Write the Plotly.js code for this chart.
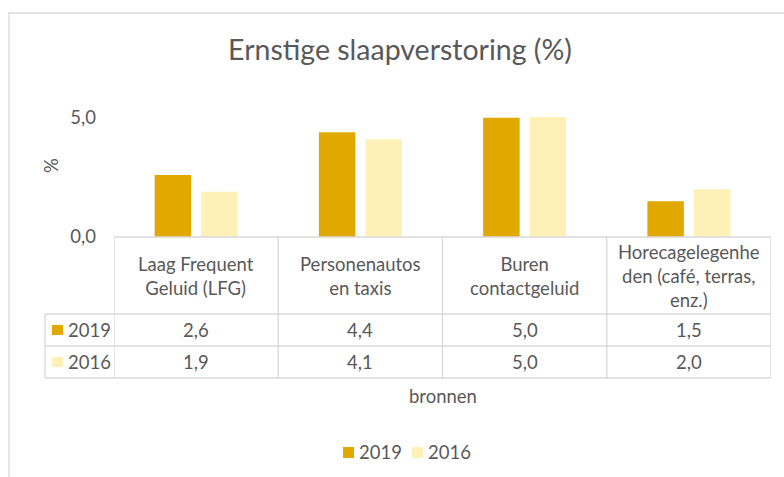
<!DOCTYPE html>
<html>
<head>
<meta charset="utf-8">
<script src="https://cdn.plot.ly/plotly-3.0.1.min.js"></script>
<style>html,body{margin:0;padding:0;background:#fff;}#chart{width:784px;height:477px;}</style>
</head>
<body>
<div id="chart"></div>
<script>
// ---- data ----
const categories = ['Laag Frequent Geluid (LFG)', 'Personenautos en taxis', 'Buren contactgeluid', 'Horecagelegenheden (café, terras, enz.)'];
const headerLabels = ['Laag Frequent<br>Geluid (LFG)', 'Personenautos<br>en taxis', 'Buren<br>contactgeluid', 'Horecagelegenhe<br>den (café, terras,<br>enz.)'];
const seriesNames = ['2019', '2016'];
const values2019 = [2.6, 4.4, 5.0, 1.5];
const values2016 = [1.9, 4.1, 5.04, 2.0];
const yTickVals = [0, 5];
const chartTitle = 'Ernstige slaapverstoring (%)';
const yTitle = '%';
const xTitle = 'bronnen';

// ---- style ----
const W = 784, H = 477;
const L = 114, R = 13, T = 94, B = 240;
const PW = W - L - R, PH = H - T - B;
const px2x = p => (p - L) / PW;
const py2y = p => (H - B - p) / PH;
const FONT = 'Lato, "Open Sans", sans-serif';
const FS = 18.5;
const TXT = '#595959';
const C19 = '#E1A900';
const C16 = '#FFF0B8';
const GRID = '#D9D9D9';
const fmt = v => v.toFixed(1).replace('.', ',');
const tf = {family: FONT, size: FS, color: TXT};

const traces = [
  {type: 'bar', name: seriesNames[0], x: categories, y: values2019, marker: {color: C19}, hoverinfo: 'skip'},
  {type: 'bar', name: seriesNames[1], x: categories, y: values2016, marker: {color: C16}, hoverinfo: 'skip'}
];

const shapes = [];
const annotations = [];
const line = {color: GRID, width: 1.3};
// outer chart border
shapes.push({type: 'rect', xref: 'paper', yref: 'paper', x0: px2x(9), x1: px2x(800), y0: py2y(13), y1: py2y(500), line: {color: GRID, width: 1.3}, fillcolor: 'rgba(0,0,0,0)', layer: 'below'});
// table horizontal lines
const rowY = [237, 314, 346, 378];
rowY.forEach((p, i) => {
  shapes.push({type: 'line', xref: 'paper', yref: 'paper', x0: px2x(i === 0 ? L : 45), x1: 1, y0: py2y(p), y1: py2y(p), line});
});
// table vertical lines at category boundaries
for (let i = 0; i <= categories.length; i++) {
  shapes.push({type: 'line', xref: 'x', yref: 'paper', x0: i - 0.5, x1: i - 0.5, y0: py2y(237), y1: py2y(378), line});
}
shapes.push({type: 'line', xref: 'paper', yref: 'paper', x0: px2x(45), x1: px2x(45), y0: py2y(314), y1: py2y(378), line});

// header labels
headerLabels.forEach((lab, i) => {
  annotations.push({xref: 'x', yref: 'paper', x: categories[i], y: py2y(276), text: lab, showarrow: false, xanchor: 'center', yanchor: 'middle', align: 'center', font: tf});
});
// value rows with legend keys
const rows = [values2019, values2016];
const rowMid = [330, 362];
const rowColors = [C19, C16];
rows.forEach((vals, r) => {
  vals.forEach((v, i) => {
    annotations.push({xref: 'x', yref: 'paper', x: categories[i], y: py2y(rowMid[r]), text: fmt(v), showarrow: false, xanchor: 'center', yanchor: 'middle', font: tf});
  });
  shapes.push({type: 'rect', xref: 'paper', yref: 'paper', x0: px2x(52), x1: px2x(63), y0: py2y(rowMid[r] - 5), y1: py2y(rowMid[r] + 5), line: {width: 0}, fillcolor: rowColors[r]});
  annotations.push({xref: 'paper', yref: 'paper', x: px2x(66), y: py2y(rowMid[r]), text: seriesNames[r], showarrow: false, xanchor: 'left', yanchor: 'middle', font: tf});
});
// bottom legend
const legX = [343, 412];
seriesNames.forEach((n, r) => {
  shapes.push({type: 'rect', xref: 'paper', yref: 'paper', x0: px2x(legX[r]), x1: px2x(legX[r] + 11), y0: py2y(447), y1: py2y(458), line: {width: 0}, fillcolor: rowColors[r]});
  annotations.push({xref: 'paper', yref: 'paper', x: px2x(legX[r] + 14), y: py2y(452), text: n, showarrow: false, xanchor: 'left', yanchor: 'middle', font: tf});
});
// y title
annotations.push({xref: 'paper', yref: 'paper', x: px2x(51), y: py2y(166), text: yTitle, textangle: -90, showarrow: false, xanchor: 'center', yanchor: 'middle', font: tf});
// x title
annotations.push({xref: 'paper', yref: 'paper', x: 0.5, y: py2y(396), text: xTitle, showarrow: false, xanchor: 'center', yanchor: 'middle', font: tf});

const layout = {
  width: W, height: H,
  margin: {l: L, r: R, t: T, b: B, pad: 0},
  paper_bgcolor: '#fff', plot_bgcolor: '#fff',
  separators: ',.',
  font: tf,
  title: {text: chartTitle, x: 400 / W, xanchor: 'center', xref: 'container', y: 1 - 50 / H, yanchor: 'middle', yref: 'container', font: {family: FONT, size: 28.5, color: TXT}},
  barmode: 'group', bargap: 0.434, bargroupgap: 0.215,
  xaxis: {type: 'category', showticklabels: false, showline: false, showgrid: false, zeroline: false, ticks: '', range: [-0.5, categories.length - 0.5], fixedrange: true},
  yaxis: {range: [0, 6], tickvals: yTickVals, tickformat: '.1f', showline: false, showgrid: false, zeroline: false, ticks: '', ticklabelstandoff: 17, tickfont: tf, fixedrange: true},
  showlegend: false,
  shapes, annotations
};

Plotly.newPlot('chart', traces, layout, {displayModeBar: false, staticPlot: true});
</script>
</body>
</html>
